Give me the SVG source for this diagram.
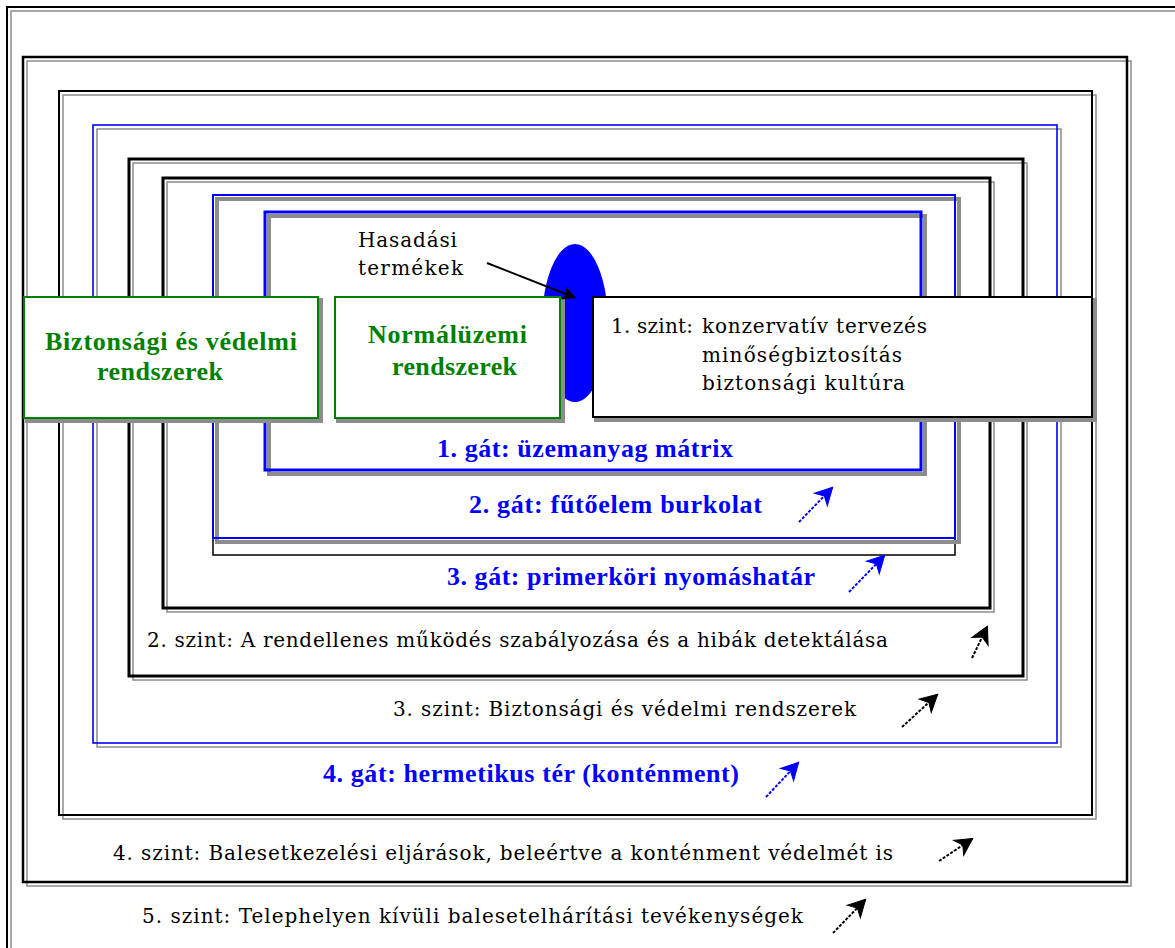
<svg xmlns="http://www.w3.org/2000/svg" width="1175" height="948" viewBox="0 0 1175 948">
<defs>
<style>
.fr{fill:none}
.sh{fill:none;stroke:#8c8c8c}
.k{stroke:#000}
.bl{stroke:#0000ff}
.box{fill:#fff}
.shb{fill:none;stroke:#8c8c8c;stroke-width:4}
.tk{font-family:"DejaVu Serif","Liberation Serif",serif;font-size:20px;fill:#000}
.tg{font-family:"Liberation Serif","Times New Roman",serif;font-weight:bold;font-size:26px;fill:#008000}
.tb{font-family:"Liberation Serif","Times New Roman",serif;font-weight:bold;font-size:26px;fill:#0000ff}
.ar{fill:none;stroke-width:2;stroke-dasharray:3 1.5}
</style>
<marker id="mk" markerUnits="userSpaceOnUse" markerWidth="24" markerHeight="24" viewBox="-20 -12 24 24" refX="0" refY="0" orient="auto">
<path d="M1,0 L-16,-9 L-11,0 L-16,9 z" fill="#000" stroke="#000" stroke-width="1"/>
</marker>
<marker id="mb" markerUnits="userSpaceOnUse" markerWidth="24" markerHeight="24" viewBox="-20 -12 24 24" refX="0" refY="0" orient="auto">
<path d="M1,0 L-16,-9 L-11,0 L-16,9 z" fill="#0000ff" stroke="#0000ff" stroke-width="1"/>
</marker>
<marker id="mh" markerUnits="userSpaceOnUse" markerWidth="20" markerHeight="20" viewBox="-16 -10 20 20" refX="0" refY="0" orient="auto">
<path d="M0,0 L-14,-7 L-10,0 L-14,7 z" fill="#000"/>
</marker>
</defs>
<rect x="0" y="0" width="1175" height="948" fill="#fff"/>

<g id="frame-outer">
<rect class="sh" x="11" y="11" width="1180" height="960" stroke-width="1.5"/>
<rect class="fr k" x="7" y="7" width="1180" height="960" stroke-width="2"/>
</g>
<g id="frame-szint4">
<rect class="sh" x="27" y="61" width="1104" height="825" stroke-width="1.5"/>
<rect class="fr k" x="23" y="57" width="1104" height="825" stroke-width="2.5"/>
</g>
<g id="frame-szint3">
<rect class="sh" x="63" y="95" width="1033" height="724" stroke-width="1.5"/>
<rect class="fr k" x="59" y="91" width="1033" height="724" stroke-width="2"/>
</g>
<g id="frame-gat4">
<rect class="sh" x="97" y="129" width="964" height="618" stroke-width="1.5"/>
<rect class="fr bl" x="93" y="125" width="964" height="618" stroke-width="1.6"/>
</g>
<g id="frame-szint2">
<rect class="sh" x="133" y="163" width="894" height="517" stroke-width="1.5"/>
<rect class="fr k" x="129" y="159" width="894" height="517" stroke-width="3"/>
</g>
<g id="frame-gat3">
<rect class="sh" x="167" y="182" width="827" height="430" stroke-width="1.5"/>
<rect class="fr k" x="163" y="178" width="827" height="430" stroke-width="3"/>
</g>
<g id="frame-gat2">
<rect class="fr k" x="213" y="195" width="742" height="360" stroke-width="1.5"/>
<rect class="shb" x="217" y="199" width="742" height="343"/>
<rect class="fr bl" x="213" y="195" width="742" height="343" stroke-width="2"/>
</g>
<g id="frame-gat1">
<rect class="shb" x="269" y="216" width="656" height="258"/>
<rect class="fr bl" x="265" y="212" width="656" height="258" stroke-width="3"/>
</g>

<g id="fission-products">
<ellipse cx="575" cy="323" rx="33" ry="79" fill="#0000ff"/>
<text class="tk" x="358" y="247" font-size="19" textLength="99">Hasadási</text>
<text class="tk" x="358" y="275" font-size="19" textLength="105">termékek</text>
</g>

<g id="labels">
<text class="tb" x="437" y="457" textLength="296">1. gát: üzemanyag mátrix</text>
<text class="tb" x="469" y="513" textLength="293">2. gát: fűtőelem burkolat</text>
<text class="tb" x="447" y="585" textLength="368">3. gát: primerköri nyomáshatár</text>
<text class="tk" x="147" y="647" textLength="741">2. szint: A rendellenes működés szabályozása és a hibák detektálása</text>
<text class="tk" x="393" y="716" textLength="463">3. szint: Biztonsági és védelmi rendszerek</text>
<text class="tb" x="323" y="782" textLength="416">4. gát: hermetikus tér (konténment)</text>
<text class="tk" x="113" y="860" textLength="780">4. szint: Balesetkezelési eljárások, beleértve a konténment védelmét is</text>
<text class="tk" x="142" y="923" textLength="661">5. szint: Telephelyen kívüli balesetelhárítási tevékenységek</text>
</g>

<g id="node-biztonsagi">
<rect class="shb" x="27" y="300" width="294" height="121" stroke-width="3"/>
<rect class="box" x="24" y="297" width="294" height="121" stroke="#008000" stroke-width="2"/>
<text class="tg" x="45" y="350" textLength="252">Biztonsági és védelmi</text>
<text class="tg" x="97" y="380" textLength="126">rendszerek</text>
</g>

<g id="node-normaluzemi">
<rect class="shb" x="338" y="300" width="225" height="121" stroke-width="3"/>
<rect class="box" x="335" y="297" width="225" height="121" stroke="#008000" stroke-width="2"/>
<text class="tg" x="368" y="343" textLength="159">Normálüzemi</text>
<text class="tg" x="392" y="375" textLength="125">rendszerek</text>
</g>

<g id="node-szint1">
<rect class="shb" x="596" y="300" width="499" height="120" stroke-width="3"/>
<rect class="box" x="593" y="297" width="499" height="120" stroke="#000" stroke-width="2"/>
<text class="tk" x="611" y="333" textLength="82">1. szint:</text>
<text class="tk" x="702" y="333" textLength="225">konzervatív tervezés</text>
<text class="tk" x="702" y="362" textLength="200">minőségbiztosítás</text>
<text class="tk" x="702" y="390" textLength="203">biztonsági kultúra</text>
</g>

<g id="connectors">
<line x1="487" y1="263" x2="576" y2="298" stroke="#000" stroke-width="2" marker-end="url(#mh)"/>
<line class="ar" x1="799" y1="522" x2="832" y2="488" stroke="#0000ff" marker-end="url(#mb)"/>
<line class="ar" x1="849" y1="592" x2="884" y2="556" stroke="#0000ff" marker-end="url(#mb)"/>
<line class="ar" x1="972" y1="658" x2="987" y2="627" stroke="#000" marker-end="url(#mk)"/>
<line class="ar" x1="902" y1="727" x2="937" y2="695" stroke="#000" marker-end="url(#mk)"/>
<line class="ar" x1="766" y1="797" x2="798" y2="763" stroke="#0000ff" marker-end="url(#mb)"/>
<line class="ar" x1="939" y1="861" x2="972" y2="839" stroke="#000" marker-end="url(#mk)"/>
<line class="ar" x1="833" y1="933" x2="865" y2="900" stroke="#000" marker-end="url(#mk)"/>
</g>
</svg>
